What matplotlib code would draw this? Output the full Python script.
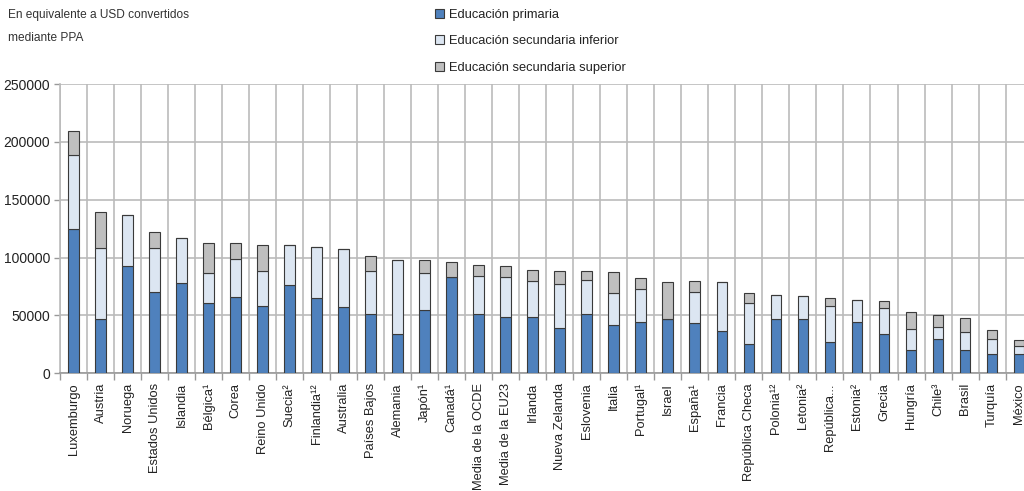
import matplotlib
matplotlib.use("Agg")
import matplotlib.pyplot as plt
import numpy as np

categories = ["Luxemburgo", "Austria", "Noruega", "Estados Unidos", "Islandia", "Bélgica¹",
              "Corea", "Reino Unido", "Suecia²", "Finlandia¹²", "Australia", "Países Bajos",
              "Alemania", "Japón¹", "Canadá¹", "Media de la OCDE", "Media de la EU23", "Irlanda",
              "Nueva Zelanda", "Eslovenia", "Italia", "Portugal¹", "Israel", "España¹",
              "Francia", "República Checa", "Polonia¹²", "Letonia²", "República...", "Estonia²",
              "Grecia", "Hungría", "Chile³", "Brasil", "Turquía", "México"]

primaria = [125000, 47000, 93000, 70000, 78000, 61000, 66000, 58000, 76000, 65000, 57000, 51000,
            34000, 55000, 83000, 51000, 49000, 49000, 39000, 51000, 42000, 44000, 47000, 43500,
            36500, 25500, 47000, 46500, 27000, 44000, 34000, 20000, 30000, 20000, 16500, 17000]
sec_inferior = [64000, 61500, 44000, 38000, 39000, 25500, 33000, 30500, 34500, 44000, 50000, 37500,
                64000, 32000, 0, 33000, 34500, 30500, 38000, 30000, 27500, 29000, 0, 27000,
                42000, 35500, 21000, 20000, 31500, 19500, 22000, 18500, 10000, 16000, 13500, 7000]
sec_superior = [20000, 31000, 0, 14000, 0, 26000, 14000, 22000, 0, 0, 0, 13000,
                0, 11000, 13000, 9500, 9500, 10000, 11500, 7000, 18000, 9500, 32000, 9000,
                0, 8000, 0, 0, 7000, 0, 6500, 14500, 10000, 11500, 7500, 4500]

labels = ["Educación primaria", "Educación secundaria inferior", "Educación secundaria superior"]
colors = ["#4F81BD", "#DCE6F2", "#BFBFBF"]
yticks = [0, 50000, 100000, 150000, 200000, 250000]

FONT = ["Liberation Sans", "DejaVu Sans"]
plt.rcParams["font.family"] = FONT

fig = plt.figure(figsize=(10.24, 4.91), dpi=100)
ax = fig.add_axes([60 / 1024, 117.7 / 491, 972.6 / 1024, 289.3 / 491])

x = np.arange(len(categories))
p = np.array(primaria, dtype=float)
si = np.array(sec_inferior, dtype=float)
ss = np.array(sec_superior, dtype=float)
w = 0.4
ec = "#3a3a3a"
ax.bar(x, p, w, color=colors[0], edgecolor=ec, linewidth=0.8, label=labels[0], zorder=3)
ax.bar(x, si, w, bottom=p, color=colors[1], edgecolor=ec, linewidth=0.8, label=labels[1], zorder=3)
ax.bar(x, ss, w, bottom=p + si, color=colors[2], edgecolor=ec, linewidth=0.8, label=labels[2], zorder=3)

ax.set_xlim(-0.5, len(categories) - 0.5)
ax.set_ylim(0, 250000)
ax.set_yticks(yticks)
ax.set_yticklabels([str(v) for v in yticks], fontsize=10, color="#222222")
ax.set_xticks(x)
ax.set_xticklabels(categories, rotation=90, fontsize=9.3, color="#222222")
ax.set_xticks(np.arange(-0.5, len(categories), 1.0), minor=True)
ax.tick_params(axis="x", which="major", length=0, pad=7)
ax.tick_params(axis="x", which="minor", length=5, color="#999999", width=1)
ax.tick_params(axis="y", length=4, color="#999999", width=1, pad=3)
ax.grid(axis="y", which="major", color="#BBBBBB", linewidth=1.2, zorder=0)
ax.grid(axis="x", which="minor", color="#BBBBBB", linewidth=1.2, zorder=0)
for s in ["top", "right"]:
    ax.spines[s].set_visible(False)
ax.spines["left"].set_color("#BBBBBB")
ax.spines["left"].set_linewidth(1.2)
ax.spines["bottom"].set_color("#999999")
ax.spines["bottom"].set_linewidth(1.2)

fig.text(8 / 1024, 1 - 15 / 491, "En equivalente a USD convertidos", fontsize=8.6,
         va="center", ha="left", color="#333333")
fig.text(8 / 1024, 1 - 38 / 491, "mediante PPA", fontsize=8.6,
         va="center", ha="left", color="#333333")

leg = fig.legend(loc="upper left", bbox_to_anchor=(430 / 1024, 1 - 4 / 491), frameon=False,
                 fontsize=9.3, handlelength=0.7, handleheight=0.7, handletextpad=0.4,
                 labelspacing=1.1, borderaxespad=0)
for t in leg.get_texts():
    t.set_color("#222222")

fig.savefig("out.png", dpi=100)
